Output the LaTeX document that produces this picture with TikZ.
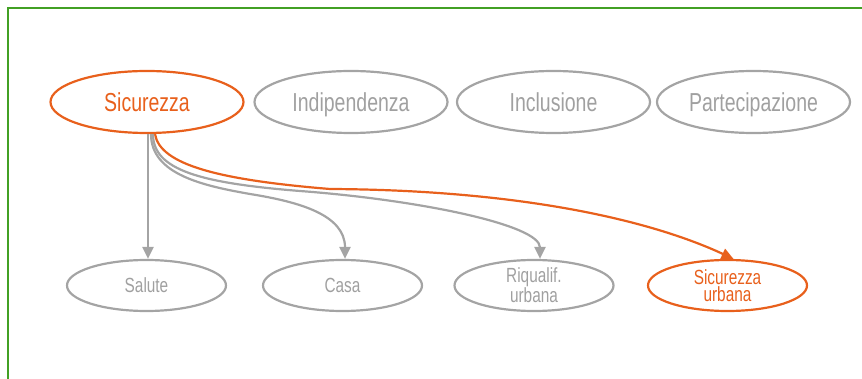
\documentclass[tikz,border=0pt]{standalone}
\usepackage{fontspec}
\setmainfont{Liberation Sans}[FakeStretch=0.75]
\usetikzlibrary{arrows.meta,shapes.geometric}
\definecolor{accent}{RGB}{232,96,28}
\definecolor{muted}{RGB}{164,164,164}
\definecolor{mutedtext}{RGB}{160,160,160}
\definecolor{framegreen}{RGB}{66,160,36}

\begin{document}
\begin{tikzpicture}[x=1pt,y=-1pt,
  topnode/.style={ellipse, draw=muted, line width=2.2pt, text=mutedtext,
    minimum width=193pt, minimum height=62pt, inner sep=0pt,
    text height=18.5pt, text depth=0pt,
    font=\fontsize{26}{28}\selectfont},
  subnode/.style={ellipse, draw=muted, line width=2.2pt, text=mutedtext,
    minimum width=159pt, minimum height=51pt, inner sep=0pt, align=center,
    font=\fontsize{20.5}{16.5}\selectfont},
  active/.style={draw=accent, text=accent},
  link/.style={draw=muted, line width=2.2pt, -{Triangle[length=12pt,width=11pt]}},
  activelink/.style={link, draw=accent},
]
\useasboundingbox (0,0) rectangle (862,379);

% frame
\draw[framegreen, line width=2pt] (7.5,400) -- (7.5,8.5) -- (880,8.5);

% main themes
\node[topnode, active] (sic) at (147,102) {Sicurezza};
\node[topnode] (ind) at (351,102) {Indipendenza};
\node[topnode] (inc) at (553.5,102) {Inclusione};
\node[topnode] (par) at (753.5,102) {Partecipazione};

% sub-themes
\node[subnode] (sal) at (146.5,285.5) {Salute};
\node[subnode] (cas) at (342.5,285.5) {Casa};
\node[subnode] (riq) at (534,285.5) {Riqualif.\\urbana};
\node[subnode, active] (urb) at (727.5,285.5) {Sicurezza\\urbana};

% links
\draw[link] ([xshift=1pt]sic.south) -- ([xshift=1.5pt]sal.north);
\draw[link] ([xshift=4pt]sic.south)
  .. controls (151,175) and (205,186) .. (250,194)
  .. controls (300,202) and (345,215) .. ([xshift=2.5pt]cas.north);
\draw[link] ([xshift=6pt]sic.south)
  .. controls (153,170) and (200,183) .. (300,191)
  .. controls (420,200) and (540,225) .. ([xshift=6pt]riq.north);
\draw[activelink] ([xshift=8pt]sic.south)
  .. controls (160,165) and (220,180) .. (330,189)
  .. controls (520,190) and (650,220) .. ([xshift=6pt]urb.north);
\end{tikzpicture}
\end{document}
